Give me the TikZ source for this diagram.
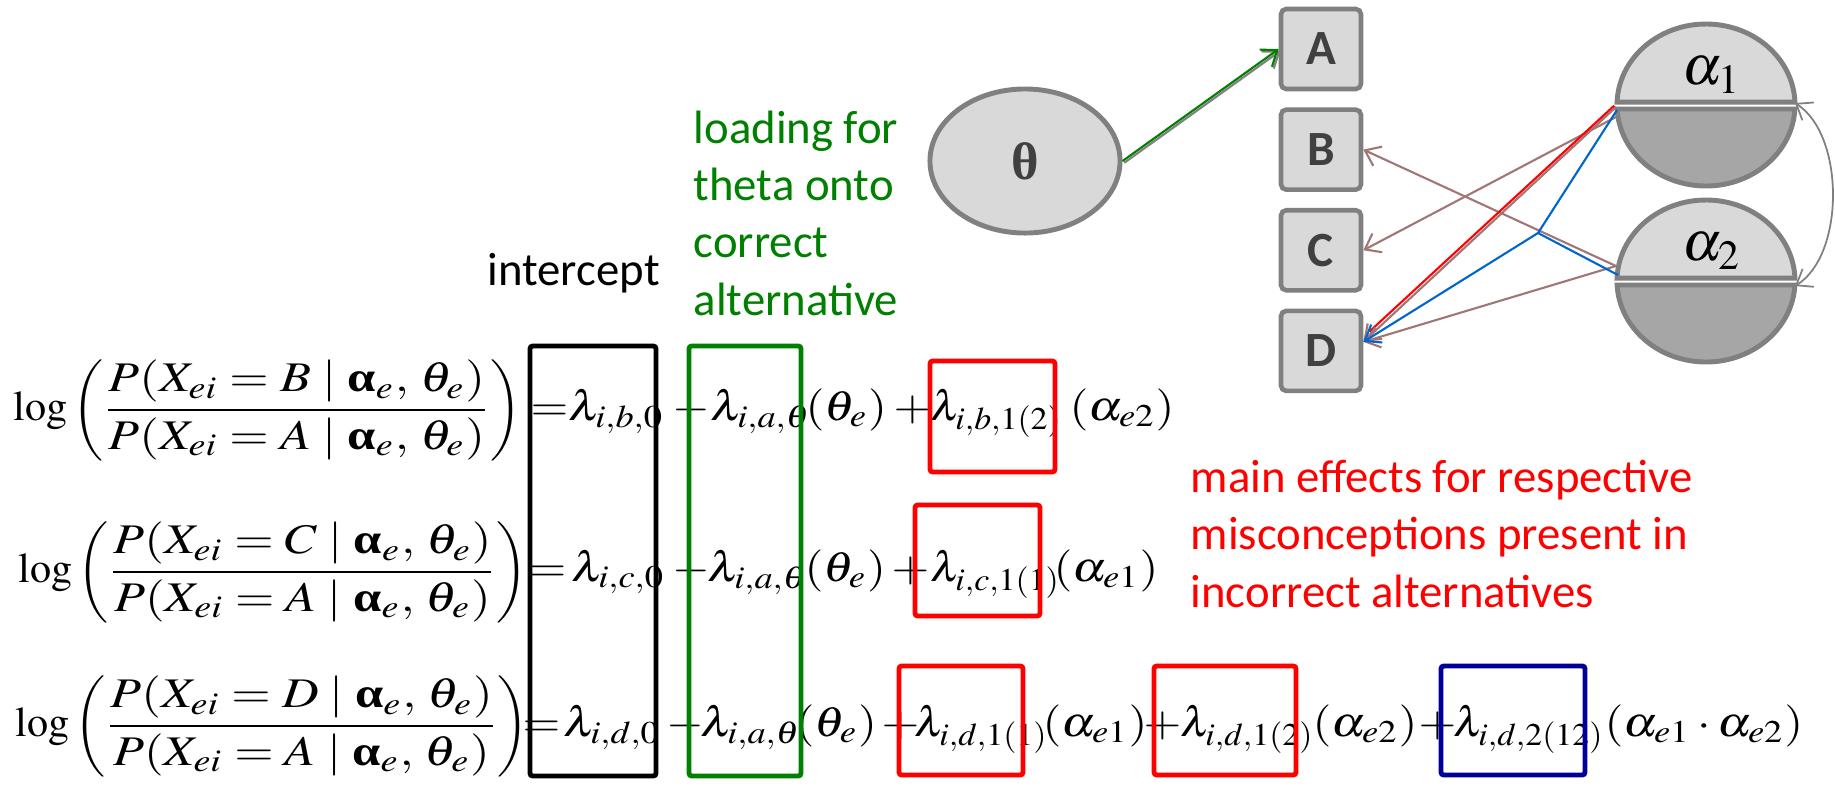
\documentclass[tikz,border=0pt]{standalone}
\usepackage{amsmath,amssymb}
\usepackage{mathptmx}
\usepackage[no-math]{fontspec}
\usepackage{graphicx}
\usepackage{xcolor}
\usepackage{tikz}
\usetikzlibrary{arrows.meta,positioning,calc,shapes.geometric}

\newfontfamily\calibri{Carlito}
\newfontfamily\lserif{Liberation Serif}

\definecolor{boxgray}{HTML}{D9D9D9}
\definecolor{halfgray}{HTML}{A6A6A6}
\definecolor{rimgray}{HTML}{808080}
\definecolor{lettergray}{HTML}{404040}
\definecolor{mauve}{RGB}{160,118,118}
\definecolor{linkblue}{RGB}{0,102,204}
\definecolor{navy}{RGB}{0,0,153}
\definecolor{pptgreen}{RGB}{0,128,0}

\newcommand{\widemath}[1]{\scalebox{1.15}[1]{$#1$}}
\newcommand{\effmath}[1]{\scalebox{1.07}[1]{$#1$}}
\newcommand{\balpha}{\mbox{\lserif\bfseries α}}
% log odds of option #1 against the key A
\newcommand{\logodds}[1]{\log\left(\scalebox{1.2}[1]{$\displaystyle
  \frac{P(X_{ei}=#1\;|\;\balpha_e,\,\theta_e)}{P(X_{ei}=A\;|\;\balpha_e,\,\theta_e)}$}\right)}

\begin{document}
\begin{tikzpicture}[
  x=0.01cm, y=-0.01cm,
  >={Straight Barb[length=4pt,width=6pt]},
  eq/.style={inner sep=0,anchor=base west,font=\fontsize{12}{14}\selectfont},
  lhs/.style={inner sep=0,anchor=west,font=\fontsize{12}{14}\selectfont},
  optbox/.style={draw=rimgray,fill=boxgray,line width=1.3pt,rounded corners=1.5pt,minimum size=0.8cm,inner sep=0,
    text=lettergray,font=\calibri\bfseries\fontsize{14}{16}\selectfont},
  latent/.style={ellipse,draw=rimgray,fill=boxgray,line width=1.4pt,minimum width=1.9cm,minimum height=1.44cm,inner sep=0,
    text=lettergray,font=\lserif\bfseries\fontsize{15}{17}\selectfont},
  halftop/.style={draw=rimgray,fill=boxgray,line width=1.4pt},
  halfbot/.style={draw=rimgray,fill=halfgray,line width=1.4pt},
  termbox/.style={line width=1.4pt,rounded corners=0.8pt},
  note/.style={anchor=base west,inner sep=0,align=left,font=\calibri\fontsize{13.3}{16.3}\selectfont},
  link/.style={->,line width=0.6pt}
]
\useasboundingbox (0,0) rectangle (1835,793);

% item options and the ability
\node[optbox] (A) at (1321,49) {A};
\node[optbox,below=0.16cm of A] (B) {B};
\node[optbox,below=0.16cm of B] (C) {C};
\node[optbox,below=0.16cm of C] (D) {D};
\node[latent] (theta) at (1025,161) {θ};

% attributes, split in two halves
\coordinate (a1) at (1706,105);
\coordinate (a2) at (1706,281);
\foreach \c in {a1,a2} {
  \draw[halftop] ($(\c)+(-2.1:89 and 81)$) arc[start angle=-2.1,end angle=-177.9,x radius=89,y radius=81] -- cycle;
  \draw[halfbot] ($(\c)+(2.8:89 and 81)$) arc[start angle=2.8,end angle=177.2,x radius=89,y radius=81] -- cycle;
}
\node[font=\fontsize{16}{18}\selectfont] (a1lab) at ($(a1)+(6,-30)$) {$\alpha_1$};
\node[font=\fontsize{16}{18}\selectfont] (a2lab) at ($(a2)+(6,-30)$) {$\alpha_2$};

\coordinate (a1w) at (1616,107);
\coordinate (a2w) at (1616,266);
\coordinate (a1e) at (1795,103);
\coordinate (a2e) at (1795,286);
\coordinate (fork) at (1538,233);
\coordinate (Din) at ($(D.east)+(0,-9)$);

% loadings
\draw[link,gray,transform canvas={xshift=0.5pt,yshift=-0.5pt}] (theta.east) -- (A.west);
\draw[link,pptgreen] (theta.east) -- (A.west);
\draw[link,mauve] (a2w) -- (B.east);
\draw[link,mauve] ($(a1w)+(0,10)$) -- (C.east);
\draw[link,mauve] (a1w) -- (Din);
\draw[red,line width=0.6pt,transform canvas={xshift=-0.5pt,yshift=0.4pt}] (a1w) -- ($(Din)+(8,-9)$);
\draw[link,mauve] (a2w) -- (Din);
\draw[linkblue,line width=0.6pt] ($(a1w)+(1,3)$) -- (fork) -- ($(a2w)+(2,9)$);
\draw[link,linkblue] (fork) -- (Din);
\draw[<->,rimgray,line width=0.5pt] (a1e) .. controls (1845,135) and (1845,255) .. (a2e);

% labels
\node[note] (icpt) at (487,285) {intercept};
\node[note,text=pptgreen] (load) at (693,315) {loading for\\theta onto\\correct\\alternative};
\node[note,text=red] (main) at (1190,607) {main effects for respective\\misconceptions present in\\incorrect alternatives};

% option B
\node[lhs] (lhsB) at (13,410) {$\logodds{B}$};
\node[eq] (eqB) at (530,420) {\widemath{=}};
\node[eq] (lamB0) at (568,420) {\widemath{\lambda_{i,b,0}}};
\node[eq] (minB) at (672,420) {\widemath{-}};
\node[eq] (lamBt) at (710,420) {\widemath{\lambda_{i,a,\theta}}};
\node[eq] (thB) at (805,420) {\widemath{(\theta_e)}};
\node[eq] (plB) at (893,420) {\widemath{+}};
\node[eq] (lamB1) at (930,420) {\effmath{\lambda_{i,b,1(2)}}};
\node[eq] (alB) at (1069,420) {\widemath{(\alpha_{e2})}};

% option C
\node[lhs] (lhsC) at (18,572) {$\logodds{C}$};
\node[eq] (eqC) at (528,581) {\widemath{=}};
\node[eq] (lamC0) at (571,581) {\widemath{\lambda_{i,c,0}}};
\node[eq] (minC) at (672,581) {\widemath{-}};
\node[eq] (lamCt) at (707,581) {\widemath{\lambda_{i,a,\theta}}};
\node[eq] (thC) at (804,581) {\widemath{(\theta_e)}};
\node[eq] (plC) at (891,581) {\widemath{+}};
\node[eq] (lamC1) at (930,581) {\effmath{\lambda_{i,c,1(1)}}};
\node[eq] (alC) at (1053,581) {\widemath{(\alpha_{e1})}};

% option D
\node[lhs] (lhsD) at (15,726) {$\logodds{D}$};
\node[eq] (eqD) at (522,736) {\widemath{=}};
\node[eq] (lamD0) at (563,736) {\widemath{\lambda_{i,d,0}}};
\node[eq] (minD) at (666,736) {\widemath{-}};
\node[eq] (lamDt) at (700,736) {\widemath{\lambda_{i,a,\theta}}};
\node[eq] (thD) at (795,736) {\widemath{(\theta_e)}};
\node[eq] (plD) at (881,736) {\widemath{+}};
\node[eq] (lamD1) at (914,736) {\effmath{\lambda_{i,d,1(1)}}};
\node[eq] (alD1) at (1042,736) {\widemath{(\alpha_{e1})}};
\node[eq] (plD2) at (1143,736) {\widemath{+}};
\node[eq] (lamD2) at (1180,736) {\effmath{\lambda_{i,d,1(2)}}};
\node[eq] (alD2) at (1312,736) {\widemath{(\alpha_{e2})}};
\node[eq] (plD3) at (1418,736) {\widemath{+}};
\node[eq] (lamD12) at (1453,736) {\effmath{\lambda_{i,d,2(12)}}};
\node[eq] (alD12) at (1604,736) {\widemath{(\alpha_{e1}\cdot\alpha_{e2})}};

% boxes round the terms
\draw[termbox] (530,346) rectangle (656,776);
\draw[termbox,pptgreen] (689,346) rectangle (801,776);
\draw[termbox,red] (930,361) rectangle (1055,472);
\draw[termbox,red] (915,505) rectangle (1040,616);
\draw[termbox,red] (899,666) rectangle (1023,775);
\draw[termbox,red] (1154,666) rectangle (1296,775);
\draw[termbox,navy] (1441,666) rectangle (1585,775);
\end{tikzpicture}
\end{document}
